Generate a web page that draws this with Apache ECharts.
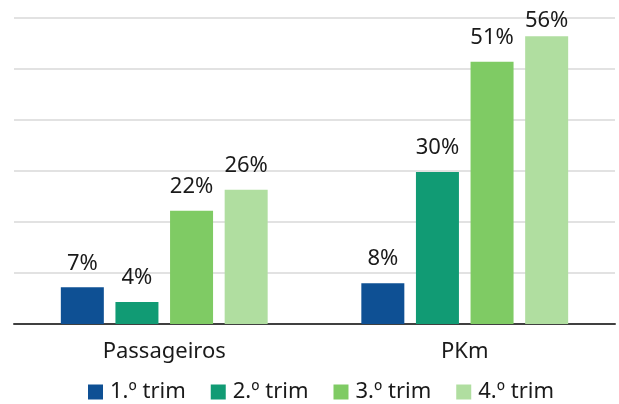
<!DOCTYPE html>
<html>
<head>
<meta charset="utf-8">
<script src="https://cdn.jsdelivr.net/npm/echarts@6/dist/echarts.min.js"></script>
<style>
html,body{margin:0;padding:0;background:#fff;}
#c{width:619px;height:404px;}
</style>
</head>
<body>
<div id="c"></div>
<script>
var categories = ['Passageiros', 'PKm'];
var seriesNames = ['1.º trim', '2.º trim', '3.º trim', '4.º trim'];
var trim1 = [7.2, 8.0];
var trim2 = [4.3, 29.8];
var trim3 = [22.2, 51.4];
var trim4 = [26.3, 56.4];
var yTicks = [0, 10, 20, 30, 40, 50, 60];

var colors = ['#0E5094', '#119B74', '#7FCB64', '#B0DEA0'];
var values = [trim1, trim2, trim3, trim4];
var yMax = yTicks[yTicks.length - 1];

var series = values.map(function (arr, i) {
  return {
    name: seriesNames[i],
    type: 'bar',
    barWidth: 43,
    barGap: '27%',
    itemStyle: { color: colors[i] },
    data: arr.map(function (v) {
      return {
        value: v,
        label: { distance: (v > yMax - 6) ? 5 : 13 }
      };
    }),
    label: {
      show: true,
      position: 'top',
      color: '#1a1a1a',
      fontSize: 22,
      fontFamily: 'Noto Sans',
      formatter: function (p) { return Math.round(p.value) + '%'; }
    }
  };
});

var chart = echarts.init(document.getElementById('c'));
chart.setOption({
  animation: false,
  grid: { left: 14, right: 4, top: 18, bottom: 80, containLabel: false },
  legend: {
    top: 376,
    left: 83,
    itemWidth: 15,
    itemHeight: 15,
    itemGap: 25,
    icon: 'rect',
    textStyle: { fontSize: 22, color: '#1a1a1a', fontFamily: 'Noto Sans', padding: [0, 0, 0, 2] },
    data: seriesNames
  },
  xAxis: {
    type: 'category',
    data: categories,
    axisLine: { lineStyle: { color: '#404040', width: 2 } },
    axisTick: { show: false },
    axisLabel: { fontSize: 22, color: '#1a1a1a', fontFamily: 'Noto Sans', margin: 17 }
  },
  yAxis: {
    type: 'value',
    min: yTicks[0],
    max: yMax,
    interval: yTicks[1] - yTicks[0],
    axisLabel: { show: false },
    axisLine: { show: false },
    axisTick: { show: false },
    splitLine: { lineStyle: { color: '#d9d9d9', width: 1.5 } }
  },
  series: series
});
</script>
</body>
</html>
